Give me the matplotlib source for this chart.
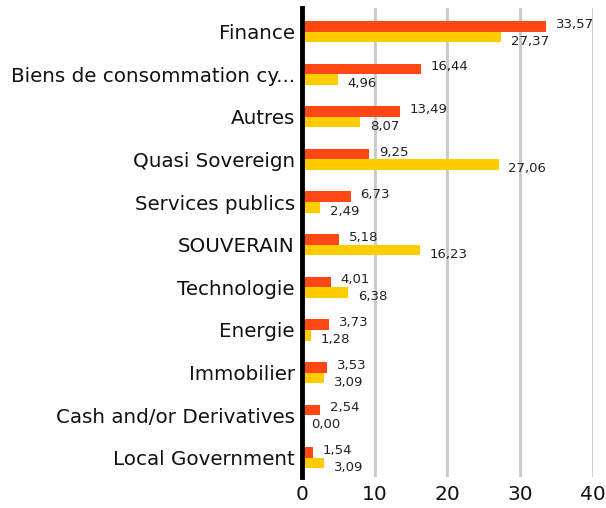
import matplotlib
matplotlib.use('Agg')
import matplotlib.pyplot as plt
import numpy as np

categories = ["Finance", "Biens de consommation cy...", "Autres", "Quasi Sovereign",
              "Services publics", "SOUVERAIN", "Technologie", "Energie",
              "Immobilier", "Cash and/or Derivatives", "Local Government"]
fund = [33.57, 16.44, 13.49, 9.25, 6.73, 5.18, 4.01, 3.73, 3.53, 2.54, 1.54]
benchmark = [27.37, 4.96, 8.07, 27.06, 2.49, 16.23, 6.38, 1.28, 3.09, 0.00, 3.09]

plt.rcParams['font.family'] = ['DejaVu Sans']

fig = plt.figure(figsize=(6.06, 5.08), dpi=100)
ax = fig.add_axes([0.498, 0.061, 0.480, 0.923])

y = np.arange(len(categories))
h = 0.25
ax.barh(y - h / 2, fund, height=h, color='#ff4713', zorder=3)
ax.barh(y + h / 2, benchmark, height=h, color='#ffcc00', zorder=3)

# value labels
for yi, v in zip(y, fund):
    ax.annotate(f"{v:.2f}".replace('.', ','), (v, yi - h / 2), xytext=(7, 1.5),
                textcoords='offset points', va='center', ha='left', fontsize=9.5, color='#222222')
for yi, v in zip(y, benchmark):
    ax.annotate(f"{v:.2f}".replace('.', ','), (v, yi + h / 2), xytext=(7, -3),
                textcoords='offset points', va='center', ha='left', fontsize=9.5, color='#222222')

ax.set_xlim(0, 40)
ax.set_ylim(len(categories) - 0.55, -0.55)
ax.set_xticks([0, 10, 20, 30, 40])
ax.set_yticks(y)
ax.set_yticklabels(categories, fontsize=14.3, color='#111111')
ax.tick_params(axis='x', labelsize=14.5, length=0, pad=6, colors='#111111')
ax.tick_params(axis='y', length=0, pad=5)

ax.grid(axis='x', color='#c8c8c8', linewidth=2, zorder=0)
for s in ['top', 'right', 'bottom']:
    ax.spines[s].set_visible(False)
ax.spines['left'].set_linewidth(3.5)
ax.spines['left'].set_color('black')
ax.spines['left'].set_zorder(4)

plt.savefig('out.png', dpi=100)
plt.close()
